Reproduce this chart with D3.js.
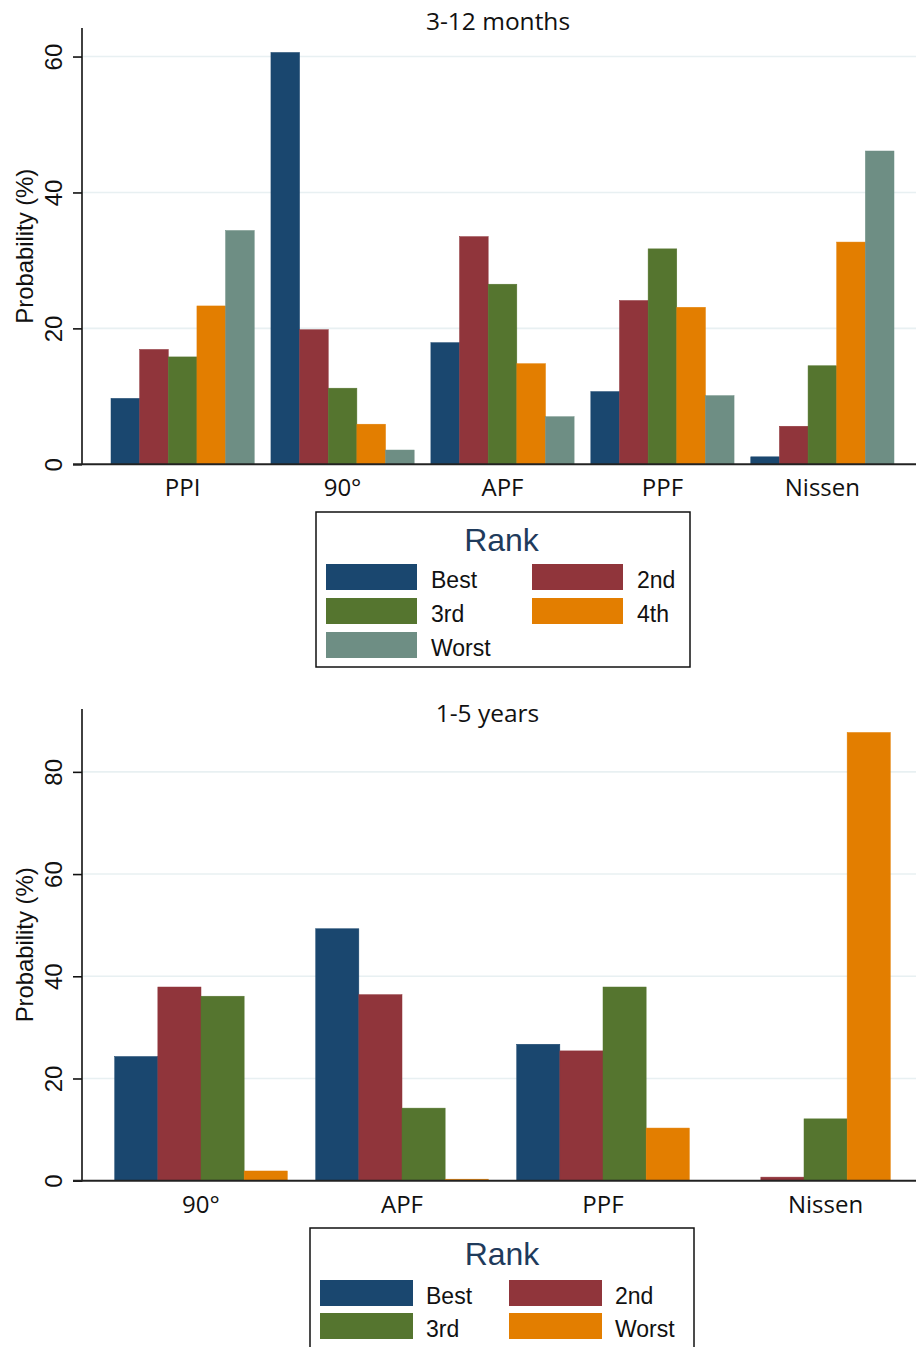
<!DOCTYPE html>
<html>
<head>
<meta charset="utf-8">
<script src="https://cdn.jsdelivr.net/npm/d3@7"></script>
<style>
  html, body { margin: 0; padding: 0; background: #fff; }
  svg { display: block; }
</style>
</head>
<body>
<svg id="chart" width="916" height="1347"></svg>
<script>
// ---------- data: panel 1 (3-12 months) ----------
const categories1 = ["PPI", "90°", "APF", "PPF", "Nissen"];
const ranks1 = ["Best", "2nd", "3rd", "4th", "Worst"];
const best1   = [9.7, 60.6, 17.9, 10.7, 1.1];
const second1 = [16.9, 19.8, 33.5, 24.1, 5.6];
const third1  = [15.8, 11.2, 26.5, 31.7, 14.5];
const fourth1 = [23.3, 5.9, 14.8, 23.1, 32.7];
const worst1  = [34.4, 2.1, 7.0, 10.1, 46.1];
const ticks1 = [0, 20, 40, 60];

// ---------- data: panel 2 (1-5 years) ----------
const categories2 = ["90°", "APF", "PPF", "Nissen"];
const ranks2 = ["Best", "2nd", "3rd", "Worst"];
const best2   = [24.3, 49.3, 26.7, null];
const second2 = [37.9, 36.4, 25.4, 0.7];
const third2  = [36.1, 14.2, 37.9, 12.1];
const worst2  = [1.9, 0.3, 10.3, 87.7];
const ticks2 = [0, 20, 40, 60, 80];

const colors1 = ["#1a476f", "#90353b", "#55752f", "#e37e00", "#6e8e84"];
const colors2 = ["#1a476f", "#90353b", "#55752f", "#e37e00"];

const svg = d3.select("#chart");

function panel(cfg) {
  const g = svg.append("g");
  const x = d3.scaleBand().domain(cfg.categories)
    .range([cfg.left, cfg.right])
    .paddingInner(cfg.padInner).paddingOuter(cfg.padOuter);
  const xs = d3.scaleBand().domain(cfg.ranks).range([0, x.bandwidth()]).padding(0);
  const y = d3.scaleLinear().domain([0, cfg.ymax]).range([cfg.yZero, cfg.yTop]);

  // gridlines
  g.append("g").selectAll("line")
    .data(cfg.ticks.filter(t => t > 0)).join("line")
    .attr("x1", cfg.left + 1).attr("x2", 916)
    .attr("y1", d => y(d)).attr("y2", d => y(d))
    .attr("stroke", "#e8f0f2").attr("stroke-width", 1.6);

  // title
  g.append("text").attr("x", cfg.titleX).attr("y", cfg.titleY)
    .attr("text-anchor", "middle")
    .attr("font-family", "'Open Sans', sans-serif").attr("font-size", 24.5)
    .attr("fill", "#111").text(cfg.title);

  // bars
  const rows = cfg.categories.map((c, i) => ({
    cat: c,
    vals: cfg.series.map((s, j) => ({ rank: cfg.ranks[j], v: s[i], color: cfg.colors[j] }))
  }));
  const grp = g.append("g").selectAll("g").data(rows).join("g")
    .attr("transform", d => `translate(${x(d.cat)},0)`);
  grp.selectAll("rect").data(d => d.vals.filter(v => v.v !== null)).join("rect")
    .attr("x", d => xs(d.rank))
    .attr("width", xs.bandwidth())
    .attr("y", d => y(d.v))
    .attr("height", d => y(0) - y(d.v))
    .attr("fill", d => d.color)
    .attr("stroke", d => d.color).attr("stroke-width", 0.5);

  // category labels centered over non-missing bars
  grp.append("text")
    .attr("x", d => {
      const present = d.vals.filter(v => v.v !== null);
      const a = xs(present[0].rank), b = xs(present[present.length - 1].rank) + xs.bandwidth();
      return (a + b) / 2;
    })
    .attr("y", cfg.yZero + 32)
    .attr("text-anchor", "middle")
    .attr("font-family", "'Open Sans', sans-serif").attr("font-size", 24)
    .attr("fill", "#111").text(d => d.cat);

  // y axis
  const ax = g.append("g").attr("transform", `translate(${cfg.left},0)`)
    .call(d3.axisLeft(y).tickValues(cfg.ticks).tickSize(9).tickPadding(0).tickFormat(d3.format("d")));
  ax.select(".domain").remove();
  ax.selectAll(".tick line").attr("stroke", "#111").attr("stroke-width", 1.6);
  ax.selectAll(".tick text")
    .attr("x", null).attr("dy", null)
    .attr("transform", "translate(-20,0) rotate(-90)")
    .attr("text-anchor", "middle")
    .attr("font-family", "'Liberation Sans', Arial, sans-serif")
    .attr("font-size", 24).attr("fill", "#111");

  // axis lines
  g.append("line").attr("x1", cfg.left).attr("x2", cfg.left)
    .attr("y1", cfg.yTop).attr("y2", cfg.yZero + 0.8)
    .attr("stroke", "#111").attr("stroke-width", 1.6);
  g.append("line").attr("x1", cfg.left - 9).attr("x2", 916)
    .attr("y1", cfg.yZero).attr("y2", cfg.yZero)
    .attr("stroke", "#222").attr("stroke-width", 2);

  // y axis title
  g.append("text")
    .attr("transform", `translate(33,${(cfg.yTop + cfg.yZero) / 2}) rotate(-90)`)
    .attr("text-anchor", "middle")
    .attr("font-family", "'Liberation Sans', Arial, sans-serif")
    .attr("font-size", 24).attr("fill", "#111")
    .attr("textLength", 155).attr("lengthAdjust", "spacing")
    .text("Probability (%)");

  // legend
  const L = cfg.legend;
  g.append("rect").attr("x", L.x).attr("y", L.y).attr("width", L.w).attr("height", L.h)
    .attr("fill", "#fff").attr("stroke", "#111").attr("stroke-width", 1.5);
  g.append("text").attr("x", L.titleX).attr("y", L.titleY)
    .attr("text-anchor", "middle")
    .attr("font-family", "'Liberation Sans', Arial, sans-serif").attr("font-size", 32)
    .attr("fill", "#1f3b5c").text("Rank");
  const items = g.append("g").selectAll("g").data(cfg.ranks).join("g")
    .attr("transform", (d, i) => `translate(${L.colX[i % 2]},${L.rowY + Math.floor(i / 2) * L.rowPitch})`);
  items.append("rect").attr("width", L.keyW).attr("height", L.keyH)
    .attr("fill", (d, i) => cfg.colors[i]);
  items.append("text").attr("x", L.labelDx).attr("y", L.keyH - 2)
    .attr("font-family", "'Liberation Sans', Arial, sans-serif").attr("font-size", 23)
    .attr("fill", "#111").text(d => d);
}

panel({
  categories: categories1, ranks: ranks1,
  series: [best1, second1, third1, fourth1, worst1], colors: colors1,
  ticks: ticks1, ymax: 64.2, yTop: 28, yZero: 464.3,
  left: 82, right: 923, padInner: 0.1045, padOuter: 0.1813,
  title: "3-12 months", titleX: 498, titleY: 30,
  legend: { x: 316, y: 512, w: 374, h: 155, titleX: 501.5, titleY: 551,
            colX: [326, 532], rowY: 564, rowPitch: 34, keyW: 91, keyH: 26, labelDx: 105 }
});

panel({
  categories: categories2, ranks: ranks2,
  series: [best2, second2, third2, worst2], colors: colors2,
  ticks: ticks2, ymax: 92.3, yTop: 709, yZero: 1180.7,
  left: 82, right: 923, padInner: 0.1413, padOuter: 0.1627,
  title: "1-5 years", titleX: 487.5, titleY: 722,
  legend: { x: 310, y: 1228, w: 384, h: 140, titleX: 502, titleY: 1265,
            colX: [320, 509], rowY: 1280, rowPitch: 33, keyW: 93, keyH: 26, labelDx: 106 }
});
</script>
</body>
</html>
